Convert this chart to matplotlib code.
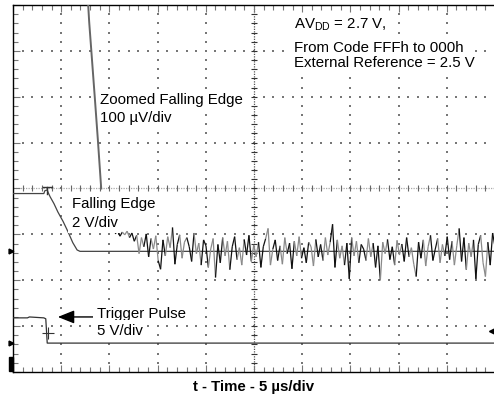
import numpy as np
import matplotlib
matplotlib.use('Agg')
import matplotlib.pyplot as plt
from matplotlib.collections import LineCollection
from matplotlib.patches import Rectangle

plt.rcParams['font.family'] = ['Liberation Sans', 'DejaVu Sans']

# all values in scope divisions: x 0..10, y 0..8 (bottom = 0)
# zoomed falling edge (100 uV/div), steep part coming down from the top
zoom_x = [1.56, 1.58, 1.70, 1.76, 1.83]
zoom_y = [8.00, 7.64, 5.94, 5.07, 4.00]

# zoomed trace settled noise, offset from the settled level
noise_start, noise_end = 2.12, 10.0
settle_level = 2.63
noise = [0.38, 0.45, 0.33, 0.42, 0.36, 0.44, 0.30, 0.40, 0.22, 0.35,
         -0.05, 0.30, 0.10, 0.38, -0.12, 0.28, 0.05, 0.34, -0.20, -0.39,
         0.25, -0.10, 0.32, 0.08, 0.52, -0.28, 0.15, 0.36, -0.15, 0.20,
         0.30, 0.10, -0.22, 0.40, -0.05, 0.18, -0.30, 0.25, 0.12, -0.35,
         0.05, 0.28, -0.57, 0.15, -0.25, 0.30, -0.10, 0.22, -0.40, 0.10,
         0.32, -0.18, 0.08, -0.30, 0.26, -0.08, 0.35, -0.22, 0.14, -0.12,
         0.20, -0.35, 0.10, 0.28, 0.50, -0.30, 0.05, 0.25, -0.20, 0.12,
         -0.28, 0.30, -0.05, 0.18, -0.38, 0.22, -0.10, 0.32, -0.15, 0.08,
         -0.25, 0.20, 0.10, -0.32, 0.26, -0.12, 0.15, -0.20, 0.30, -0.08,
         0.20, 0.59, -0.35, 0.25, -0.15, 0.12, -0.30, 0.18, -0.60, 0.30,
         -0.10, 0.22, -0.25, 0.15, 0.05, -0.20, 0.28, -0.12, 0.18, -0.35,
         0.12, -0.63, 0.20, -0.05, 0.26, -0.18, 0.10, -0.30, 0.24, -0.08,
         0.16, -0.22, 0.30, -0.12, 0.08, -0.28, -0.55, 0.20, -0.15, 0.25,
         -0.32, 0.10, 0.35, -0.20, 0.05, 0.28, -0.25, 0.15, -0.10, 0.32,
         -0.18, 0.22, -0.30, 0.12, 0.50, -0.22, 0.30, -0.40, 0.18, -0.12,
         0.25, -0.60, 0.15, 0.35, -0.25, -0.55, 0.20, -0.30, 0.40, 0.10]

# falling edge (2 V/div)
fall_x = [0.00, 0.64, 0.66, 0.71, 0.73, 0.77, 0.85, 0.93, 1.04, 1.14, 1.24, 1.33, 1.39, 10.0]
fall_y = [3.89, 3.89, 3.95, 3.97, 3.91, 3.82, 3.67, 3.49, 3.28, 3.06, 2.82, 2.66, 2.63, 2.63]

# trigger pulse (5 V/div)
trig_x = [0.00, 0.30, 0.34, 0.64, 0.68, 0.71, 10.0]
trig_y = [1.18, 1.18, 1.20, 1.18, 1.16, 0.63, 0.63]

fig = plt.figure(figsize=(4.94, 3.96), dpi=100)
ax = fig.add_axes([13 / 494, 24 / 396, 482 / 494, 367 / 396])
ax.set_xlim(0, 10)
ax.set_ylim(0, 8)

# frame and ticks
for s in ['left', 'top', 'bottom']:
    ax.spines[s].set_linewidth(1.0)
    ax.spines[s].set_color('black')
ax.spines['right'].set_visible(False)
ax.set_xticks(np.arange(0, 10.01, 1))
ax.set_yticks(np.arange(0, 8.01, 1))
ax.set_xticks(np.arange(0, 10.01, 0.2), minor=True)
ax.set_yticks(np.arange(0, 8.01, 0.2), minor=True)
ax.tick_params(which='both', direction='in', top=True, bottom=True, left=True, right=False,
               labelbottom=False, labelleft=False, color='#777777', width=0.8)
ax.tick_params(which='major', length=5)
ax.tick_params(which='minor', length=3.5)

# dotted graticule
for gx in range(1, 10):
    if gx == 5:
        continue
    ys = np.arange(0.2, 8, 0.2)
    ax.scatter(np.full_like(ys, gx), ys, s=0.8, marker='s', color='#777777', lw=0, zorder=1)
for gy in range(1, 8):
    if gy == 4:
        continue
    xs = np.arange(0.2, 10, 0.2)
    ax.scatter(xs, np.full_like(xs, gy), s=0.8, marker='s', color='#777777', lw=0, zorder=1)

# center cross lines with small ticks
ax.axhline(4, color='#aaaaaa', lw=0.9, ls=(0, (1, 1)), zorder=1)
ax.axvline(5, color='#555555', lw=0.9, ls=(0, (1, 1)), zorder=1)
cx = np.arange(0.2, 10, 0.2)
ax.plot(cx, np.full_like(cx, 4), ls='none', marker='|', ms=4, mew=0.8, color='#666666', zorder=1)
cy = np.arange(0.2, 8, 0.2)
ax.plot(np.full_like(cy, 5), cy, ls='none', marker='_', ms=4, mew=0.8, color='#333333', zorder=1)

# traces
ax.plot(trig_x, trig_y, color='#333333', lw=0.9, zorder=3)
ax.plot(fall_x, fall_y, color='#444444', lw=0.9, zorder=3)
ax.plot(zoom_x, zoom_y, color='#666666', lw=1.4, zorder=7)

nx = np.linspace(noise_start, noise_end, len(noise))
ny = settle_level + np.array(noise)
pts = np.column_stack([nx, ny])
segs = np.stack([pts[:-1], pts[1:]], axis=1)
cols = ['#111111' if (i // 3) % 2 == 0 else '#8a8a8a' for i in range(len(segs))]
ax.add_collection(LineCollection(segs, colors=cols, linewidths=0.9, zorder=4))

# scope markers
ax.plot([0.62, 0.81], [4.04, 4.04], color='#333333', lw=1.0, zorder=5)
ax.plot([0.71, 0.71], [4.04, 3.89], color='#333333', lw=1.0, zorder=5)
ax.plot([0.73], [0.85], marker='+', ms=9, mew=0.8, color='#333333', zorder=5)
ax.plot([9.95], [0.90], marker='<', ms=6, color='black', clip_on=False, zorder=5)
ax.plot([-0.05], [2.64], marker='>', ms=3.5, color='black', clip_on=False, zorder=5)
ax.plot([-0.05], [0.63], marker='>', ms=3.5, color='black', clip_on=False, zorder=5)
ax.add_patch(Rectangle((-0.085, 0.03), 0.085, 0.3, color='black', clip_on=False, zorder=5))

# annotations
fs = 10.8
box = dict(facecolor='white', edgecolor='none', pad=2.5)
labels = [
    (5.83, 7.49, 'AV$_{\\mathregular{DD}}$ = 2.7 V,'),
    (5.83, 6.98, 'From Code FFFh to 000h'),
    (5.83, 6.64, 'External Reference = 2.5 V'),
    (1.80, 5.85, 'Zoomed Falling Edge'),
    (1.80, 5.44, '100 µV/div'),
    (1.22, 3.58, 'Falling Edge'),
    (1.22, 3.17, '2 V/div'),
    (1.74, 1.18, 'Trigger Pulse'),
    (1.74, 0.81, '5 V/div'),
]
for tx, ty, s in labels:
    ax.text(tx, ty, s, fontsize=fs, va='baseline', bbox=box, zorder=6)
ax.annotate('', xy=(0.93, 1.20), xytext=(1.76, 1.20),
            arrowprops=dict(arrowstyle='-|>,head_length=1.0,head_width=0.4',
                            color='black', lw=1.0, shrinkA=0, shrinkB=0))

fig.text(254 / 494, 5 / 396, 't - Time - 5 µs/div', fontsize=10.8, fontweight='bold',
         ha='center', va='baseline')

fig.savefig('out.png', dpi=100)
